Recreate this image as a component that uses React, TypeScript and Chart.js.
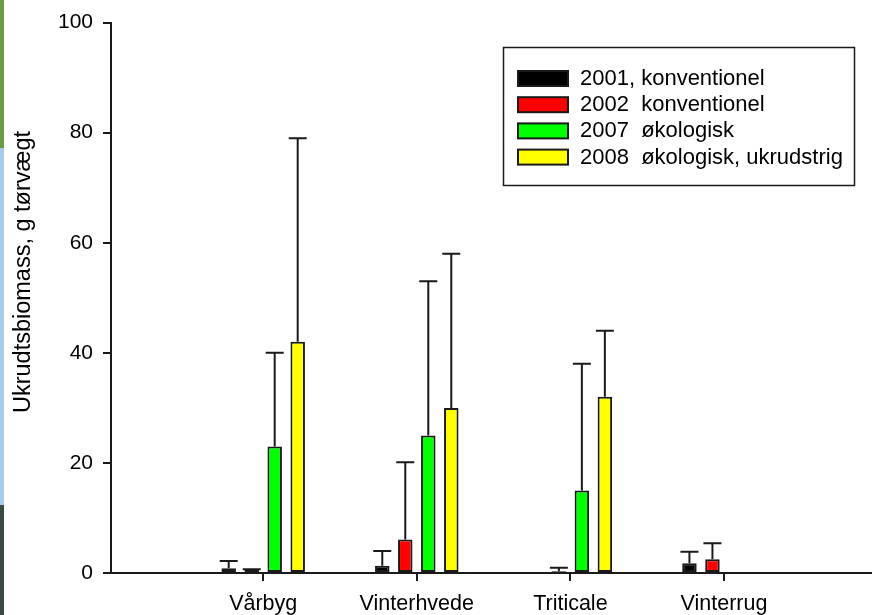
import React, { useEffect, useRef } from "react";
import { Chart, registerables } from "chart.js";

Chart.register(...registerables);

// ---- data ----
const categories = ["Vårbyg", "Vinterhvede", "Triticale", "Vinterrug"];
const categoryPositions = [1, 2, 3, 4];
const seriesLabels = [
  "2001, konventionel",
  "2002  konventionel",
  "2007  økologisk",
  "2008  økologisk, ukrudstrig",
];
const values2001 = [0.85, 1.3, null, 1.75];
const values2002 = [0.6, 6.1, 0.3, 2.5];
const values2007 = [23, 25, 15, null];
const values2008 = [42, 30, 32, null];
const sd2001 = [1.35, 2.7, null, 2.1];
const sd2002 = [0.1, 14, 0.65, 2.9];
const sd2007 = [17, 28, 23, null];
const sd2008 = [37, 28, 12, null];
const yTickStep = 20;
const yMin = 0;
const yMax = 100;
const yTitle = "Ukrudtsbiomass, g tørvægt";
const seriesColors = ["#000000", "#ff0000", "#00ff00", "#ffff00"];

const allValues = [values2001, values2002, values2007, values2008];
const allSd = [sd2001, sd2002, sd2007, sd2008];

const FONT = "'Liberation Sans', Arial, sans-serif";
const INK = "#1a1a1a";

const errorBarPlugin = {
  id: "errorBars",
  afterDatasetsDraw(chart: any) {
    const ctx = chart.ctx;
    const yScale = chart.scales.y;
    ctx.save();
    ctx.strokeStyle = INK;
    ctx.lineWidth = 2;
    chart.data.datasets.forEach((ds: any, di: number) => {
      const meta = chart.getDatasetMeta(di);
      meta.data.forEach((el: any, i: number) => {
        const v = allValues[di][i];
        const sd = allSd[di][i];
        if (v == null || sd == null) return;
        const yTop = yScale.getPixelForValue(v + sd);
        const x = el.x;
        ctx.beginPath();
        ctx.moveTo(x, el.y);
        ctx.lineTo(x, yTop);
        ctx.moveTo(x - 9, yTop);
        ctx.lineTo(x + 9, yTop);
        ctx.stroke();
      });
    });
    ctx.restore();
  },
};

const yTitlePlugin = {
  id: "yTitle",
  afterDraw(chart: any) {
    const ctx = chart.ctx;
    ctx.save();
    ctx.translate(30, 272);
    ctx.rotate(-Math.PI / 2);
    ctx.font = `23.5px ${FONT}`;
    ctx.fillStyle = "#000";
    ctx.textAlign = "center";
    ctx.textBaseline = "alphabetic";
    ctx.fillText(yTitle, 0, 0);
    ctx.restore();
  },
};

const boxLegendPlugin = {
  id: "boxLegend",
  afterDraw(chart: any) {
    const ctx = chart.ctx;
    const bx = 503.5, by = 47.5, bw = 351, bh = 138;
    ctx.save();
    ctx.fillStyle = "#ffffff";
    ctx.fillRect(bx, by, bw, bh);
    ctx.strokeStyle = INK;
    ctx.lineWidth = 1.5;
    ctx.strokeRect(bx, by, bw, bh);
    ctx.font = `22px ${FONT}`;
    ctx.textBaseline = "middle";
    ctx.textAlign = "left";
    chart.data.datasets.forEach((ds: any, i: number) => {
      const top = 71 + i * 26.2;
      ctx.fillStyle = ds.backgroundColor;
      ctx.fillRect(518, top, 50, 15);
      ctx.lineWidth = 2;
      ctx.strokeStyle = INK;
      ctx.strokeRect(518, top, 50, 15);
      ctx.fillStyle = "#000";
      ctx.fillText(ds.label, 580, top + 8);
    });
    ctx.restore();
  },
};

export default function App() {
  const canvasRef = useRef<HTMLCanvasElement | null>(null);

  useEffect(() => {
    if (!canvasRef.current) return;
    const datasets = allValues.map((vals, di) => ({
      label: seriesLabels[di],
      data: categoryPositions.map((x, i) => ({ x, y: vals[i] })),
      backgroundColor: seriesColors[di],
      borderColor: INK,
      borderWidth: 2,
      borderSkipped: false as any,
      categoryPercentage: 0.599,
      barPercentage: 0.63,
    }));
    const chart = new Chart(canvasRef.current, {
      type: "bar",
      data: { datasets },
      options: {
        responsive: false,
        animation: false,
        layout: { padding: { top: 20, left: 0, right: 0, bottom: 0 } },
        plugins: {
          legend: { display: false },
          tooltip: { enabled: false },
        },
        scales: {
          x: {
            type: "linear",
            offset: false,
            min: 0.009,
            max: 4.964,
            afterBuildTicks: (scale: any) => {
              scale.ticks = categoryPositions.map((v) => ({ value: v }));
            },
            afterFit: (scale: any) => {
              scale.height = 42;
              scale.paddingLeft = 0;
              scale.paddingRight = 0;
            },
            grid: {
              display: true,
              offset: false,
              drawOnChartArea: false,
              drawTicks: true,
              tickLength: 8,
              color: INK,
              lineWidth: 2,
            },
            border: { display: true, color: INK, width: 2 },
            ticks: {
              color: "#000",
              font: { family: FONT, size: 21.5 },
              padding: 10,
              maxRotation: 0,
              autoSkip: false,
              callback: (value: any) => {
                const idx = categoryPositions.indexOf(Number(value));
                return idx >= 0 ? categories[idx] : "";
              },
            },
          },
          y: {
            type: "linear",
            min: yMin,
            max: yMax,
            afterFit: (scale: any) => {
              scale.width = 111;
            },
            grid: {
              display: true,
              drawOnChartArea: false,
              drawTicks: true,
              tickLength: 8,
              color: INK,
              lineWidth: 2,
            },
            border: { display: true, color: INK, width: 2 },
            ticks: {
              stepSize: yTickStep,
              color: "#000",
              font: { family: FONT, size: 21 },
              padding: 10,
            },
            title: { display: false },
          },
        },
      },
      plugins: [errorBarPlugin, yTitlePlugin, boxLegendPlugin],
    });
    return () => chart.destroy();
  }, []);

  return (
    <div style={{ position: "absolute", left: 0, top: 0, width: 872, height: 615, background: "#fff" }}>
      <canvas ref={canvasRef} width={872} height={615} style={{ display: "block" }} />
      <div style={{ position: "absolute", left: 0, top: 0, width: 4, height: 148, background: "#6b9a48" }} />
      <div style={{ position: "absolute", left: 0, top: 148, width: 4, height: 357, background: "#a9cde9" }} />
      <div style={{ position: "absolute", left: 0, top: 505, width: 4, height: 110, background: "#3c4a42" }} />
    </div>
  );
}
